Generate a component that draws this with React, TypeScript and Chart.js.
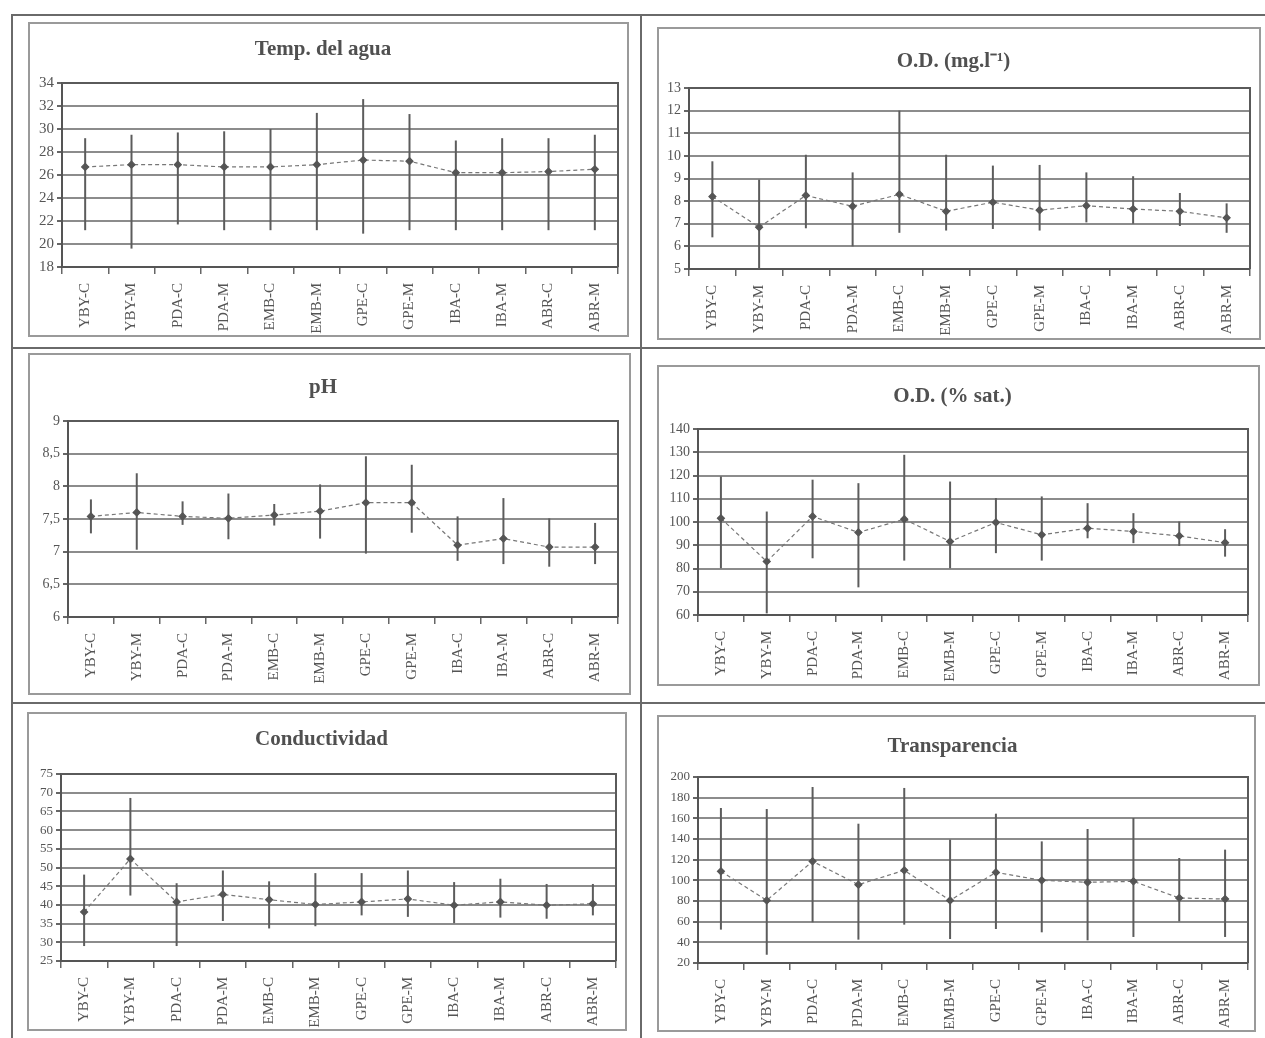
import React, { useEffect, useRef } from "react";
import { Chart, registerables } from "chart.js";

Chart.register(...registerables);

const categories = ["YBY-C", "YBY-M", "PDA-C", "PDA-M", "EMB-C", "EMB-M", "GPE-C", "GPE-M", "IBA-C", "IBA-M", "ABR-C", "ABR-M"];

// Temp. del agua
const tempMean = [26.7, 26.9, 26.9, 26.7, 26.7, 26.9, 27.3, 27.2, 26.2, 26.2, 26.3, 26.5];
const tempHi = [29.2, 29.5, 29.7, 29.8, 30.0, 31.4, 32.6, 31.3, 29.0, 29.2, 29.2, 29.5];
const tempLo = [21.2, 19.6, 21.7, 21.2, 21.2, 21.2, 20.9, 21.2, 21.2, 21.2, 21.2, 21.2];
const tempTicks = [18, 20, 22, 24, 26, 28, 30, 32, 34];

// O.D. (mg/l)
const odMgMean = [8.2, 6.85, 8.25, 7.77, 8.3, 7.55, 7.95, 7.6, 7.8, 7.65, 7.55, 7.26];
const odMgHi = [9.76, 8.95, 10.05, 9.27, 12.0, 10.05, 9.57, 9.6, 9.27, 9.1, 8.36, 7.9];
const odMgLo = [6.4, 5.0, 6.8, 6.0, 6.6, 6.7, 6.77, 6.7, 7.06, 7.0, 6.9, 6.6];
const odMgTicks = [5, 6, 7, 8, 9, 10, 11, 12, 13];

// pH
const phMean = [7.54, 7.6, 7.54, 7.51, 7.56, 7.62, 7.75, 7.75, 7.1, 7.2, 7.07, 7.07];
const phHi = [7.8, 8.2, 7.77, 7.89, 7.73, 8.03, 8.46, 8.33, 7.54, 7.82, 7.51, 7.44];
const phLo = [7.28, 7.03, 7.41, 7.19, 7.4, 7.2, 6.97, 7.29, 6.86, 6.81, 6.77, 6.81];
const phTicks = [6, 6.5, 7, 7.5, 8, 8.5, 9];

// O.D. (% sat.)
const odSatMean = [101.6, 83, 102.4, 95.5, 101.2, 91.6, 99.8, 94.5, 97.3, 95.9, 94, 91.1];
const odSatHi = [119.6, 104.5, 118.2, 116.7, 128.9, 117.4, 110.3, 111, 108.1, 103.8, 100.2, 96.9];
const odSatLo = [80.1, 60.7, 84.4, 71.9, 83.4, 80.1, 86.6, 83.4, 93, 90.9, 89.7, 85.1];
const odSatTicks = [60, 70, 80, 90, 100, 110, 120, 130, 140];

// Conductividad
const condMean = [38.1, 52.3, 40.8, 42.8, 41.4, 40.1, 40.8, 41.6, 39.9, 40.8, 39.9, 40.3];
const condHi = [48.1, 68.6, 45.8, 49.2, 46.3, 48.5, 48.5, 49.2, 46.1, 47, 45.6, 45.6];
const condLo = [29.0, 42.5, 29.0, 35.7, 33.7, 34.3, 37.2, 36.8, 35.1, 36.6, 36.3, 37.2];
const condTicks = [25, 30, 35, 40, 45, 50, 55, 60, 65, 70, 75];

// Transparencia
const transMean = [108.7, 80.6, 118.4, 95.8, 109.7, 80.6, 107.7, 100, 98.1, 99, 82.9, 81.9];
const transHi = [170, 169, 190.3, 154.8, 189.4, 139.4, 164.5, 137.7, 149.7, 160.3, 121.6, 129.7];
const transLo = [52.3, 28, 59.4, 42.6, 57.1, 43.2, 52.9, 49.7, 41.9, 45.2, 60.3, 45.2];
const transTicks = [20, 40, 60, 80, 100, 120, 140, 160, 180, 200];

const SERIF = '"Liberation Serif", "Times New Roman", serif';

type PanelCfg = {
  title: string;
  mean: number[];
  hi: number[];
  lo: number[];
  ticks: number[];
  frame: { x: number; y: number; w: number; h: number };
  plot: { l: number; t: number; r: number; b: number };
  titleY: number;
  tickSize: number;
};

const panels: PanelCfg[] = [
  { title: "Temp. del agua", mean: tempMean, hi: tempHi, lo: tempLo, ticks: tempTicks, tickSize: 15,
    frame: { x: 28, y: 22, w: 601, h: 315 }, plot: { l: 62, t: 83, r: 618, b: 267 }, titleY: 50 },
  { title: "O.D. (mg.l\u207B\u00B9)", mean: odMgMean, hi: odMgHi, lo: odMgLo, ticks: odMgTicks, tickSize: 14,
    frame: { x: 657, y: 27, w: 604, h: 313 }, plot: { l: 689, t: 88, r: 1250, b: 269 }, titleY: 62 },
  { title: "pH", mean: phMean, hi: phHi, lo: phLo, ticks: phTicks, tickSize: 14,
    frame: { x: 28, y: 353, w: 603, h: 342 }, plot: { l: 68, t: 421, r: 618, b: 617 }, titleY: 388 },
  { title: "O.D. (% sat.)", mean: odSatMean, hi: odSatHi, lo: odSatLo, ticks: odSatTicks, tickSize: 14,
    frame: { x: 657, y: 365, w: 603, h: 321 }, plot: { l: 698, t: 429, r: 1248, b: 615 }, titleY: 397 },
  { title: "Conductividad", mean: condMean, hi: condHi, lo: condLo, ticks: condTicks, tickSize: 13,
    frame: { x: 27, y: 712, w: 600, h: 319 }, plot: { l: 61, t: 774, r: 616, b: 961 }, titleY: 740 },
  { title: "Transparencia", mean: transMean, hi: transHi, lo: transLo, ticks: transTicks, tickSize: 13,
    frame: { x: 657, y: 715, w: 599, h: 317 }, plot: { l: 698, t: 777, r: 1248, b: 963 }, titleY: 747 },
];

function Panel({ cfg }: { cfg: PanelCfg }) {
  const ref = useRef<HTMLCanvasElement | null>(null);
  useEffect(() => {
    const canvas = ref.current;
    if (!canvas) return;
    const { frame, plot } = cfg;
    const titleSize = 21;
    const lh = titleSize * 1.2;
    const titleRel = cfg.titleY - frame.y;
    const topRel = plot.t - frame.y;
    const yW = plot.l - frame.x;
    const xH = frame.y + frame.h - plot.b;
    const rightPad = frame.x + frame.w - plot.r;

    const errorBars = {
      id: "errorBars",
      beforeDatasetsDraw(chart: any) {
        const { ctx } = chart;
        const xs = chart.scales.x;
        const ys = chart.scales.y;
        ctx.save();
        ctx.strokeStyle = "#5c5c5c";
        ctx.lineWidth = 2;
        cfg.lo.forEach((lo, i) => {
          const px = xs.getPixelForValue(i);
          ctx.beginPath();
          ctx.moveTo(px, ys.getPixelForValue(lo));
          ctx.lineTo(px, ys.getPixelForValue(cfg.hi[i]));
          ctx.stroke();
        });
        ctx.restore();
      },
      afterDraw(chart: any) {
        const { ctx, chartArea } = chart;
        ctx.save();
        ctx.strokeStyle = "#5a5a5a";
        ctx.lineWidth = 2;
        ctx.beginPath();
        ctx.moveTo(chartArea.left, chartArea.top);
        ctx.lineTo(chartArea.right, chartArea.top);
        ctx.lineTo(chartArea.right, chartArea.bottom);
        ctx.stroke();
        ctx.restore();
      },
    };

    const chart = new Chart(canvas, {
      type: "line",
      data: {
        labels: categories,
        datasets: [
          {
            data: cfg.mean,
            borderColor: "#777",
            borderWidth: 1.2,
            borderDash: [4, 3],
            pointStyle: "rectRot",
            pointRadius: 3.5,
            pointBackgroundColor: "#555",
            pointBorderColor: "#555",
            fill: false,
            tension: 0,
          },
        ],
      },
      options: {
        responsive: false,
        animation: false,
        devicePixelRatio: 1,
        layout: { padding: { left: 0, right: rightPad, top: 0, bottom: 0 } },
        plugins: {
          legend: { display: false },
          tooltip: { enabled: false },
          title: {
            display: true,
            text: cfg.title,
            color: "#505050",
            font: { family: SERIF, size: titleSize, weight: "bold", lineHeight: 1.2 },
            padding: { top: titleRel - lh / 2, bottom: topRel - titleRel - lh / 2 },
          },
        },
        scales: {
          x: {
            type: "category",
            offset: true,
            grid: { offset: true, drawOnChartArea: false, drawTicks: true, tickLength: 7, color: "#666", lineWidth: 1.5 },
            border: { display: true, color: "#555", width: 2 },
            ticks: {
              autoSkip: false,
              minRotation: 90,
              maxRotation: 90,
              padding: 9,
              color: "#555",
              font: { family: SERIF, size: 15 },
            },
            afterFit(scale: any) {
              scale.height = xH;
            },
          },
          y: {
            min: cfg.ticks[0],
            max: cfg.ticks[cfg.ticks.length - 1],
            afterBuildTicks(scale: any) {
              scale.ticks = cfg.ticks.map((v) => ({ value: v }));
            },
            grid: { color: "#8c8c8c", lineWidth: 2, tickLength: 5, tickColor: "#666" },
            border: { display: true, color: "#555", width: 2 },
            ticks: {
              autoSkip: false,
              padding: 3,
              color: "#555",
              font: { family: SERIF, size: cfg.tickSize },
              callback: (v: any) => String(v).replace(".", ","),
            },
            afterFit(scale: any) {
              scale.width = yW;
            },
          },
        },
      },
      plugins: [errorBars],
    } as any);
    return () => chart.destroy();
  }, [cfg]);

  const { frame } = cfg;
  return (
    <>
      <canvas
        ref={ref}
        width={frame.w}
        height={frame.h}
        style={{ position: "absolute", left: frame.x, top: frame.y, width: frame.w, height: frame.h }}
      />
      <div
        style={{
          position: "absolute",
          left: frame.x,
          top: frame.y,
          width: frame.w,
          height: frame.h,
          border: "2px solid #9a9a9a",
          boxSizing: "border-box",
          pointerEvents: "none",
        }}
      />
    </>
  );
}

const line = (l: number, t: number, w: number, h: number) => (
  <div style={{ position: "absolute", left: l, top: t, width: w, height: h, background: "#6a6a6a" }} />
);

export default function App() {
  return (
    <div style={{ position: "absolute", left: 0, top: 0, width: 1265, height: 1038, background: "#fff", overflow: "hidden" }}>
      {line(12, 14, 1253, 2)}
      {line(11, 14, 2, 1024)}
      {line(640, 14, 2, 1024)}
      {line(12, 347, 1253, 2)}
      {line(12, 702, 1253, 2)}
      {panels.map((p, i) => (
        <Panel key={i} cfg={p} />
      ))}
    </div>
  );
}
